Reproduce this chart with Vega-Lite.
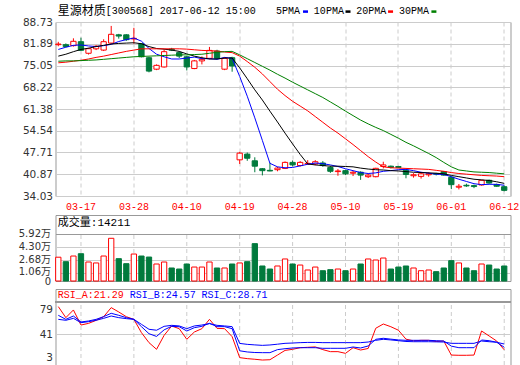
{
"$schema":"https://vega.github.io/schema/vega-lite/v6.json",
"background":"white",
"padding":{"left":17.5,"top":4,"right":0,"bottom":0},
"bounds":"flush",
"spacing":8,
"config":{"view":{"stroke":"#999999"}},
"datasets":{
"g":[{"d":"03-17"},{"d":"03-28"},{"d":"04-10"},{"d":"04-19"},{"d":"04-28"},{"d":"05-10"},{"d":"05-19"},{"d":"06-01"},{"d":"06-12"}],
"k":[
{"d":"03-14","o":81.6,"h":82.5,"l":81.1,"c":81.8,"v":2.98,"m5":80.1,"m10":78.0,"m20":75.9,"m30":76.4,"ra":76.9,"rb":65.7,"rc":60.5},
{"d":"03-15","o":81.6,"h":82.0,"l":80.8,"c":81.0,"v":2.42,"m5":80.8,"m10":78.6,"m20":76.1,"m30":76.5,"ra":62.7,"rb":60.5,"rc":59.3},
{"d":"03-16","o":81.3,"h":83.6,"l":81.0,"c":82.66,"v":3.13,"m5":81.4,"m10":79.4,"m20":76.4,"m30":76.5,"ra":72.6,"rb":64.8,"rc":61.8},
{"d":"03-17","o":82.54,"h":83.8,"l":79.6,"c":79.83,"v":3.42,"m5":81.5,"m10":80.1,"m20":76.7,"m30":76.6,"ra":53.2,"rb":57.1,"rc":56.2},
{"d":"03-20","o":78.9,"h":80.6,"l":78.5,"c":80.34,"v":2.38,"m5":81.2,"m10":80.5,"m20":77.1,"m30":76.7,"ra":55.3,"rb":58.4,"rc":57.5},
{"d":"03-21","o":80.3,"h":81.5,"l":79.9,"c":81.1,"v":2.26,"m5":81.0,"m10":81.0,"m20":77.6,"m30":76.8,"ra":59.2,"rb":60.5,"rc":59.3},
{"d":"03-22","o":79.9,"h":83.3,"l":79.6,"c":82.54,"v":3.13,"m5":81.3,"m10":81.4,"m20":78.0,"m30":77.0,"ra":63.9,"rb":64.0,"rc":61.8},
{"d":"03-23","o":82.1,"h":87.5,"l":81.9,"c":84.86,"v":5.35,"m5":81.7,"m10":81.8,"m20":78.5,"m30":77.2,"ra":75.6,"rb":68.3,"rc":64.8},
{"d":"03-24","o":84.7,"h":85.0,"l":83.5,"c":84.3,"v":2.80,"m5":82.6,"m10":82.0,"m20":79.0,"m30":77.4,"ra":70.0,"rb":65.7,"rc":62.7},
{"d":"03-27","o":84.7,"h":84.9,"l":82.8,"c":83.17,"v":2.17,"m5":83.2,"m10":82.1,"m20":79.5,"m30":77.6,"ra":63.9,"rb":62.7,"rc":61.4},
{"d":"03-28","o":83.4,"h":86.9,"l":81.9,"c":83.6,"v":3.38,"m5":83.7,"m10":82.2,"m20":79.9,"m30":77.8,"ra":60.5,"rb":60.5,"rc":60.5},
{"d":"03-29","o":81.9,"h":82.1,"l":77.6,"c":77.8,"v":3.13,"m5":82.7,"m10":81.9,"m20":80.3,"m30":77.9,"ra":43.4,"rb":51.1,"rc":54.1},
{"d":"03-30","o":77.5,"h":77.8,"l":72.9,"c":73.3,"v":3.00,"m5":80.4,"m10":81.0,"m20":80.3,"m30":78.0,"ra":30.5,"rb":42.0,"rc":47.7},
{"d":"03-31","o":73.9,"h":75.4,"l":73.6,"c":75.1,"v":2.13,"m5":78.6,"m10":80.4,"m20":80.3,"m30":78.1,"ra":21.9,"rb":38.5,"rc":46.5},
{"d":"04-05","o":74.6,"h":80.1,"l":74.4,"c":79.4,"v":2.38,"m5":77.8,"m10":80.2,"m20":80.3,"m30":78.2,"ra":39.9,"rb":47.0,"rc":51.5},
{"d":"04-06","o":80.2,"h":80.6,"l":79.6,"c":79.9,"v":1.63,"m5":77.1,"m10":79.9,"m20":80.3,"m30":78.3,"ra":51.9,"rb":51.5,"rc":52.8},
{"d":"04-07","o":79.1,"h":79.5,"l":77.4,"c":78.0,"v":1.50,"m5":77.1,"m10":79.5,"m20":80.3,"m30":78.4,"ra":48.5,"rb":51.0,"rc":52.0},
{"d":"04-10","o":77.8,"h":78.1,"l":73.5,"c":74.6,"v":2.13,"m5":77.4,"m10":78.7,"m20":80.2,"m30":78.4,"ra":34.8,"rb":45.5,"rc":48.5},
{"d":"04-11","o":74.1,"h":76.8,"l":73.9,"c":76.5,"v":1.75,"m5":77.7,"m10":78.0,"m20":80.0,"m30":78.5,"ra":44.2,"rb":49.8,"rc":52.0},
{"d":"04-12","o":76.5,"h":77.9,"l":75.4,"c":77.0,"v":1.75,"m5":77.2,"m10":77.5,"m20":79.8,"m30":78.6,"ra":48.5,"rb":51.5,"rc":53.2},
{"d":"04-13","o":77.3,"h":80.9,"l":77.0,"c":79.8,"v":2.38,"m5":77.2,"m10":77.1,"m20":79.7,"m30":78.9,"ra":60.5,"rb":55.4,"rc":55.0},
{"d":"04-14","o":79.6,"h":80.0,"l":77.0,"c":77.3,"v":1.63,"m5":77.0,"m10":77.1,"m20":79.6,"m30":79.2,"ra":48.9,"rb":51.1,"rc":52.8},
{"d":"04-17","o":73.9,"h":77.6,"l":73.6,"c":77.3,"v":1.63,"m5":77.6,"m10":77.4,"m20":79.3,"m30":79.4,"ra":48.5,"rb":51.1,"rc":52.0},
{"d":"04-18","o":77.5,"h":77.8,"l":73.1,"c":74.9,"v":2.13,"m5":77.3,"m10":77.4,"m20":79.1,"m30":79.5,"ra":38.2,"rb":48.5,"rc":51.1},
{"d":"04-19","o":45.4,"h":47.9,"l":44.1,"c":47.5,"v":2.26,"m5":71.6,"m10":74.3,"m20":78.0,"m30":78.4,"ra":11.2,"rb":20.0,"rc":29.5},
{"d":"04-20","o":47.2,"h":47.7,"l":45.1,"c":45.9,"v":2.42,"m5":65.4,"m10":70.9,"m20":76.3,"m30":77.2,"ra":9.9,"rb":18.5,"rc":28.3},
{"d":"04-21","o":45.1,"h":46.2,"l":41.5,"c":43.4,"v":4.68,"m5":58.6,"m10":67.4,"m20":74.5,"m30":76.0,"ra":9.1,"rb":17.8,"rc":27.6},
{"d":"04-24","o":42.6,"h":42.8,"l":40.5,"c":42.0,"v":1.88,"m5":51.5,"m10":64.2,"m20":72.4,"m30":74.8,"ra":8.1,"rb":17.6,"rc":27.0},
{"d":"04-25","o":42.1,"h":44.5,"l":41.8,"c":41.9,"v":1.50,"m5":44.3,"m10":60.7,"m20":70.0,"m30":73.6,"ra":8.5,"rb":17.6,"rc":27.5},
{"d":"04-26","o":42.3,"h":43.2,"l":41.8,"c":42.8,"v":1.88,"m5":43.2,"m10":57.3,"m20":67.6,"m30":72.3,"ra":14.5,"rb":21.5,"rc":28.5},
{"d":"04-27","o":42.7,"h":44.9,"l":42.5,"c":44.6,"v":2.76,"m5":42.9,"m10":53.8,"m20":65.6,"m30":71.1,"ra":20.5,"rb":22.7,"rc":29.6},
{"d":"04-28","o":44.6,"h":45.2,"l":43.3,"c":43.8,"v":2.13,"m5":43.0,"m10":50.4,"m20":63.8,"m30":69.8,"ra":21.9,"rb":23.6,"rc":30.0},
{"d":"05-02","o":43.6,"h":45.0,"l":43.3,"c":44.6,"v":2.00,"m5":43.5,"m10":47.1,"m20":62.3,"m30":68.6,"ra":24.0,"rb":24.0,"rc":30.5},
{"d":"05-03","o":44.1,"h":45.3,"l":43.8,"c":44.3,"v":1.38,"m5":44.0,"m10":44.1,"m20":60.8,"m30":67.4,"ra":24.5,"rb":24.0,"rc":30.8},
{"d":"05-04","o":44.1,"h":45.3,"l":43.7,"c":44.8,"v":1.75,"m5":44.4,"m10":43.8,"m20":59.0,"m30":66.2,"ra":25.0,"rb":24.0,"rc":30.8},
{"d":"05-05","o":44.4,"h":45.0,"l":43.2,"c":43.6,"v":1.29,"m5":44.2,"m10":43.6,"m20":57.2,"m30":65.0,"ra":21.5,"rb":23.2,"rc":30.5},
{"d":"05-08","o":43.0,"h":43.5,"l":41.3,"c":41.8,"v":1.42,"m5":43.8,"m10":43.4,"m20":55.4,"m30":63.6,"ra":18.9,"rb":23.2,"rc":30.5},
{"d":"05-09","o":41.7,"h":42.5,"l":40.4,"c":41.9,"v":1.50,"m5":43.3,"m10":43.4,"m20":53.8,"m30":62.2,"ra":18.9,"rb":23.2,"rc":30.5},
{"d":"05-10","o":42.0,"h":42.3,"l":40.6,"c":41.0,"v":1.29,"m5":42.6,"m10":43.3,"m20":52.0,"m30":60.7,"ra":16.7,"rb":23.2,"rc":30.5},
{"d":"05-11","o":41.2,"h":41.9,"l":40.3,"c":41.5,"v":1.50,"m5":42.0,"m10":43.2,"m20":50.2,"m30":59.3,"ra":24.0,"rb":24.9,"rc":30.5},
{"d":"05-12","o":41.5,"h":41.8,"l":39.1,"c":40.6,"v":2.13,"m5":41.4,"m10":42.8,"m20":48.3,"m30":57.9,"ra":21.0,"rb":23.6,"rc":30.5},
{"d":"05-15","o":40.1,"h":41.0,"l":39.7,"c":40.6,"v":2.76,"m5":41.1,"m10":42.5,"m20":46.4,"m30":56.7,"ra":23.0,"rb":26.2,"rc":31.3},
{"d":"05-16","o":40.1,"h":42.9,"l":39.9,"c":42.73,"v":2.63,"m5":41.3,"m10":42.3,"m20":44.7,"m30":55.6,"ra":49.0,"rb":34.8,"rc":33.5},
{"d":"05-17","o":43.3,"h":44.8,"l":42.7,"c":43.8,"v":2.88,"m5":41.8,"m10":42.2,"m20":43.2,"m30":54.6,"ra":54.5,"rb":36.1,"rc":34.8},
{"d":"05-18","o":43.4,"h":43.6,"l":42.7,"c":43.0,"v":1.50,"m5":42.0,"m10":42.0,"m20":42.9,"m30":53.4,"ra":51.0,"rb":35.0,"rc":34.0},
{"d":"05-19","o":43.3,"h":43.5,"l":42.8,"c":43.0,"v":1.75,"m5":42.3,"m10":41.9,"m20":42.8,"m30":52.2,"ra":46.5,"rb":34.0,"rc":33.0},
{"d":"05-22","o":42.1,"h":42.3,"l":39.6,"c":40.8,"v":1.88,"m5":42.4,"m10":41.7,"m20":42.7,"m30":50.9,"ra":35.0,"rb":33.5,"rc":32.0},
{"d":"05-23","o":40.4,"h":41.2,"l":39.8,"c":40.7,"v":1.63,"m5":42.0,"m10":41.5,"m20":42.6,"m30":49.8,"ra":32.8,"rb":33.5,"rc":31.7},
{"d":"05-24","o":40.2,"h":41.6,"l":39.5,"c":41.0,"v":1.29,"m5":41.5,"m10":41.4,"m20":42.5,"m30":48.6,"ra":33.5,"rb":33.5,"rc":31.7},
{"d":"05-25","o":40.7,"h":41.5,"l":40.1,"c":41.0,"v":1.38,"m5":41.2,"m10":41.3,"m20":42.4,"m30":47.4,"ra":33.5,"rb":33.5,"rc":31.7},
{"d":"05-26","o":41.1,"h":41.3,"l":40.5,"c":40.9,"v":1.17,"m5":40.9,"m10":41.2,"m20":42.1,"m30":46.1,"ra":32.0,"rb":33.0,"rc":31.5},
{"d":"05-31","o":41.7,"h":41.9,"l":40.4,"c":40.6,"v":1.63,"m5":40.8,"m10":41.0,"m20":41.8,"m30":44.6,"ra":32.6,"rb":32.6,"rc":31.3},
{"d":"06-01","o":39.9,"h":40.2,"l":36.2,"c":37.6,"v":2.55,"m5":40.1,"m10":40.5,"m20":41.4,"m30":43.2,"ra":14.5,"rb":26.0,"rc":29.6},
{"d":"06-02","o":36.8,"h":37.8,"l":36.1,"c":37.1,"v":2.26,"m5":39.3,"m10":40.1,"m20":41.1,"m30":42.2,"ra":14.2,"rb":24.0,"rc":29.6},
{"d":"06-05","o":37.4,"h":37.9,"l":36.9,"c":37.2,"v":1.63,"m5":38.6,"m10":39.7,"m20":40.9,"m30":41.9,"ra":14.2,"rb":24.0,"rc":29.6},
{"d":"06-06","o":37.3,"h":37.6,"l":36.5,"c":37.0,"v":1.29,"m5":37.9,"m10":39.3,"m20":40.7,"m30":41.6,"ra":14.5,"rb":24.0,"rc":29.6},
{"d":"06-07","o":37.5,"h":39.1,"l":37.3,"c":38.97,"v":2.13,"m5":37.6,"m10":39.1,"m20":40.5,"m30":41.5,"ra":45.5,"rb":33.9,"rc":32.6},
{"d":"06-08","o":38.97,"h":39.2,"l":37.9,"c":38.1,"v":2.00,"m5":37.7,"m10":38.9,"m20":40.4,"m30":41.4,"ra":39.1,"rb":33.0,"rc":31.7},
{"d":"06-09","o":37.6,"h":37.9,"l":36.9,"c":37.1,"v":1.50,"m5":37.7,"m10":38.5,"m20":40.3,"m30":41.2,"ra":32.6,"rb":31.0,"rc":31.0},
{"d":"06-12","o":36.95,"h":37.3,"l":35.5,"c":35.8,"v":1.88,"m5":37.4,"m10":38.0,"m20":40.1,"m30":41.0,"ra":21.29,"rb":24.57,"rc":28.71}
]},
"data":{"name":"k"},
"vconcat":[
{
"width":455,"height":174,
"layer":[
{"mark":{"type":"rule","strokeWidth":1},
 "encoding":{
  "x":{"field":"d","type":"ordinal","scale":{"type":"band","paddingInner":0.3,"paddingOuter":0.25,"align":0.04},
   "axis":{"values":["03-17","03-28","04-10","04-19","04-28","05-10","05-19","06-01","06-12"],"title":null,"grid":true,"gridColor":"#cccccc","gridDash":[4,3],"bandPosition":0.5,"ticks":false,"domain":false,"labelColor":"#FF0000","labelFont":"Liberation Mono","labelFontSize":10,"labelPadding":5,"labelAngle":0,"labelOverlap":false}},
  "y":{"field":"l","type":"quantitative","title":null,"scale":{"domain":[34.03,88.73],"nice":false,"zero":false},
   "axis":{"values":[34.03,40.87,47.71,54.54,61.38,68.22,75.05,81.89,88.73],"tickCount":30,"format":".2f","title":null,"grid":true,"gridColor":"#cccccc","ticks":false,"domain":false,"labelFont":"DejaVu Sans","labelFontSize":10.5,"labelColor":"#333333","labelPadding":3,"labelOverlap":false}},
  "y2":{"field":"h"},
  "color":{"condition":{"test":"datum.c >= datum.o","value":"#FF0000"},"value":"#007A3D"}}},
{"mark":{"type":"bar","strokeWidth":1},
 "encoding":{
  "x":{"field":"d","type":"ordinal"},
  "y":{"field":"o","type":"quantitative","title":null},
  "y2":{"field":"c"},
  "fill":{"condition":{"test":"datum.c >= datum.o","value":"#FFFFFF"},"value":"#007A3D"},
  "stroke":{"condition":{"test":"datum.c >= datum.o","value":"#FF0000"},"value":"#007A3D"}}},
{"mark":{"type":"line","color":"#0000FF","strokeWidth":1},"encoding":{"x":{"field":"d","type":"ordinal"},"y":{"field":"m5","type":"quantitative","title":null}}},
{"mark":{"type":"line","color":"#000000","strokeWidth":1},"encoding":{"x":{"field":"d","type":"ordinal"},"y":{"field":"m10","type":"quantitative","title":null}}},
{"mark":{"type":"line","color":"#FF0000","strokeWidth":1},"encoding":{"x":{"field":"d","type":"ordinal"},"y":{"field":"m20","type":"quantitative","title":null}}},
{"mark":{"type":"line","color":"#008000","strokeWidth":1},"encoding":{"x":{"field":"d","type":"ordinal"},"y":{"field":"m30","type":"quantitative","title":null}}},
{"data":{"values":[{}]},"mark":{"type":"text","align":"left","baseline":"middle","font":"Noto Sans CJK SC","fontSize":12,"color":"#000000","dx":-0.5},
 "encoding":{"x":{"datum":"03-14"},"y":{"datum":92.2},"text":{"value":"星源材质"}}},
{"data":{"values":[{}]},"mark":{"type":"text","align":"left","baseline":"middle","font":"Liberation Mono","fontSize":10,"color":"#000000","dx":2},
 "encoding":{"x":{"datum":"03-22"},"y":{"datum":92.2},"text":{"value":"[300568] 2017-06-12 15:00"}}},
{"data":{"values":[{}]},"mark":{"type":"text","align":"left","baseline":"middle","font":"Liberation Mono","fontSize":10,"color":"#000000","dx":-1.5},
 "encoding":{"x":{"datum":"04-26"},"y":{"datum":92.2},"text":{"value":"5PMA"}}},
{"data":{"values":[{}]},"mark":{"type":"text","align":"left","baseline":"middle","font":"Liberation Mono","fontSize":10,"color":"#000000","dx":-1.4},
 "encoding":{"x":{"datum":"05-04"},"y":{"datum":92.2},"text":{"value":"10PMA"}}},
{"data":{"values":[{}]},"mark":{"type":"text","align":"left","baseline":"middle","font":"Liberation Mono","fontSize":10,"color":"#000000","dx":3.2},
 "encoding":{"x":{"datum":"05-11"},"y":{"datum":92.2},"text":{"value":"20PMA"}}},
{"data":{"values":[{}]},"mark":{"type":"text","align":"left","baseline":"middle","font":"Liberation Mono","fontSize":10,"color":"#000000","dx":0.5},
 "encoding":{"x":{"datum":"05-19"},"y":{"datum":92.2},"text":{"value":"30PMA"}}},
{"data":{"values":[{}]},"mark":{"type":"point","shape":"M -1 -0.5 L 1 -0.5 L 1 0.5 L -1 0.5 Z","size":25,"filled":true,"opacity":1,"color":"#0000FF","xOffset":-2.2},
 "encoding":{"x":{"datum":"05-03"},"y":{"datum":92.0}}},
{"data":{"values":[{}]},"mark":{"type":"point","shape":"M -1 -0.5 L 1 -0.5 L 1 0.5 L -1 0.5 Z","size":25,"filled":true,"opacity":1,"color":"#000000","xOffset":2.5},
 "encoding":{"x":{"datum":"05-10"},"y":{"datum":92.0}}},
{"data":{"values":[{}]},"mark":{"type":"point","shape":"M -1 -0.5 L 1 -0.5 L 1 0.5 L -1 0.5 Z","size":25,"filled":true,"opacity":1,"color":"#FF0000","xOffset":-0.3},
 "encoding":{"x":{"datum":"05-18"},"y":{"datum":92.0}}},
{"data":{"values":[{}]},"mark":{"type":"point","shape":"M -1 -0.5 L 1 -0.5 L 1 0.5 L -1 0.5 Z","size":25,"filled":true,"opacity":1,"color":"#008000","xOffset":-2.3},
 "encoding":{"x":{"datum":"05-26"},"y":{"datum":92.0}}}
]
},
{
"width":455,"height":3,"view":{"stroke":null},
"data":{"values":[{}]},
"mark":{"type":"text"},
"encoding":{}
},
{
"width":455,"height":66,
"layer":[
{"data":{"name":"g"},"mark":{"type":"rule","color":"#cccccc","strokeDash":[4,3],"strokeWidth":1},
 "encoding":{
  "x":{"field":"d","type":"ordinal","scale":{"type":"band","paddingInner":0.3,"paddingOuter":0.25,"align":0.04},"axis":null},
  "y":{"datum":0,"type":"quantitative"},
  "y2":{"datum":5.92}}},
{"mark":{"type":"bar","strokeWidth":1},
 "encoding":{
  "x":{"field":"d","type":"ordinal","axis":null},
  "y":{"field":"v","type":"quantitative","title":null,"scale":{"domain":[0,8.27],"nice":false,"zero":false},
   "axis":{"values":[0,1.06,2.68,4.3,5.92],"tickCount":30,"labelExpr":"datum.value == 0 ? '0' : format(datum.value, '.2f') + '万'","title":null,"grid":true,
    "gridColor":{"condition":{"test":"datum.value == 5.92","value":"#999999"},"value":"#cccccc"},
    "gridOpacity":{"condition":{"test":"datum.value == 0","value":0},"value":1},
    "labelOffset":{"condition":{"test":"datum.value == 1.06","value":-1.5},"value":0},
    "ticks":false,"domain":false,"labelFont":"DejaVu Sans, Noto Sans CJK SC","labelFontSize":10,"labelColor":"#333333","labelPadding":5,"labelOverlap":false}},
  "fill":{"condition":{"test":"datum.c >= datum.o","value":"#FFFFFF"},"value":"#007A3D"},
  "stroke":{"condition":{"test":"datum.c >= datum.o","value":"#FF0000"},"value":"#007A3D"}}},
{"data":{"values":[{}]},"mark":{"type":"text","align":"left","baseline":"middle","font":"Liberation Mono, Noto Sans CJK SC","fontSize":11,"color":"#000000","dx":-0.5},
 "encoding":{"x":{"datum":"03-14","axis":null},"y":{"datum":7.23},"text":{"value":"成交量:14211"}}}
]
},
{
"width":455,"height":76,
"layer":[
{"data":{"name":"g"},"mark":{"type":"rule","color":"#cccccc","strokeDash":[4,3],"strokeWidth":1},
 "encoding":{
  "x":{"field":"d","type":"ordinal","scale":{"type":"band","paddingInner":0.3,"paddingOuter":0.25,"align":0.04},"axis":null},
  "y":{"datum":1.7,"type":"quantitative","scale":{"domain":[1.7,99.6],"nice":false,"zero":false},
   "axis":{"values":[3,41,79],"tickCount":30,"title":null,"grid":true,
    "gridOpacity":{"condition":{"test":"datum.value == 41","value":1},"value":0},
    "gridColor":"#cccccc",
    "labelBaseline":{"condition":{"test":"datum.value == 79","value":"top"},"value":"middle"},
    "labelOffset":{"condition":{"test":"datum.value == 3","value":-6},"value":0},
    "ticks":false,"domain":false,"labelFont":"DejaVu Sans","labelFontSize":10.5,"labelColor":"#333333","labelPadding":3,"labelOverlap":false}},
  "y2":{"datum":82.9}}},
{"mark":{"type":"rule","color":"#999999","strokeWidth":1},"encoding":{"y":{"datum":82.9,"type":"quantitative"}}},
{"mark":{"type":"line","color":"#FF0000","strokeWidth":1},"encoding":{"x":{"field":"d","type":"ordinal","axis":null},"y":{"field":"ra","type":"quantitative","title":null}}},
{"mark":{"type":"line","color":"#0000FF","strokeWidth":1},"encoding":{"x":{"field":"d","type":"ordinal","axis":null},"y":{"field":"rb","type":"quantitative","title":null}}},
{"mark":{"type":"line","color":"#0000FF","strokeWidth":1},"encoding":{"x":{"field":"d","type":"ordinal","axis":null},"y":{"field":"rc","type":"quantitative","title":null}}},
{"data":{"values":[{}]},"mark":{"type":"text","align":"left","baseline":"middle","font":"Liberation Mono","fontSize":10,"color":"#FF0000","dx":-0.5},
 "encoding":{"x":{"datum":"03-14","axis":null},"y":{"datum":91.9},"text":{"value":"RSI_A:21.29"}}},
{"data":{"values":[{}]},"mark":{"type":"text","align":"left","baseline":"middle","font":"Liberation Mono","fontSize":10,"color":"#0000FF","dx":3.5},
 "encoding":{"x":{"datum":"03-27","axis":null},"y":{"datum":91.9},"text":{"value":"RSI_B:24.57"}}},
{"data":{"values":[{}]},"mark":{"type":"text","align":"left","baseline":"middle","font":"Liberation Mono","fontSize":10,"color":"#0000FF","dx":-0.4},
 "encoding":{"x":{"datum":"04-12","axis":null},"y":{"datum":91.9},"text":{"value":"RSI_C:28.71"}}}
]
}
]
}
